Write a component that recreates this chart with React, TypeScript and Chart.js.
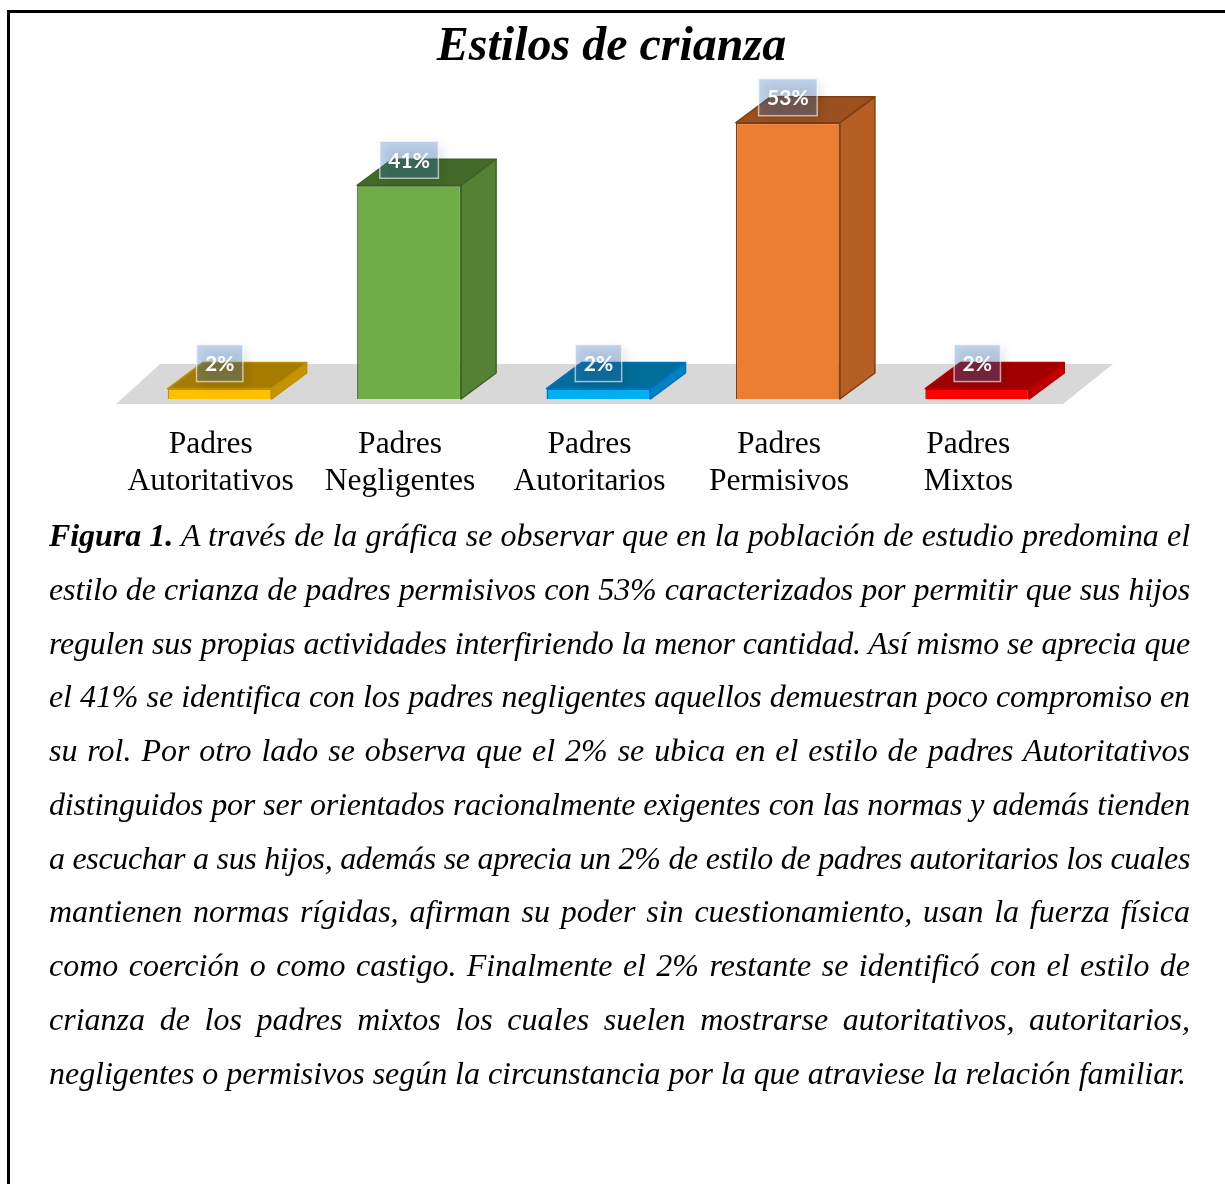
import React, { useEffect, useMemo, useRef } from "react";
import { Chart, registerables } from "chart.js";

Chart.register(...registerables);

const chartTitle = "Estilos de crianza";
const categories: string[][] = [
  ["Padres", "Autoritativos"],
  ["Padres", "Negligentes"],
  ["Padres", "Autoritarios"],
  ["Padres", "Permisivos"],
  ["Padres", "Mixtos"],
];
const values = [2, 41, 2, 53, 2];
const frontColors = ["#FFC000", "#70AD47", "#00B0F0", "#ED7D31", "#FF0000"];
const topColors = ["#A67C00", "#436A29", "#006E98", "#9A5020", "#A00000"];
const sideColors = ["#C49400", "#548235", "#0082BE", "#B65F25", "#C00000"];
const borderColors = ["#BF9000", "#3B6325", "#0070C0", "#843C0C", "#B00000"];

const captionLead = "Figura 1.";
const captionLines = [
  "A través de la gráfica se observar que en la población de estudio predomina el",
  "estilo de crianza de padres permisivos con 53% caracterizados por permitir que sus hijos",
  "regulen sus propias actividades interfiriendo la menor cantidad. Así mismo se aprecia que",
  "el 41% se identifica con los padres negligentes aquellos demuestran poco compromiso en",
  "su rol. Por otro lado se observa que el 2% se ubica en el estilo de padres Autoritativos",
  "distinguidos por ser orientados racionalmente exigentes con las normas y además tienden",
  "a escuchar a sus hijos, además se aprecia un 2% de estilo de padres autoritarios los cuales",
  "mantienen normas rígidas, afirman su poder sin cuestionamiento, usan la fuerza física",
  "como coerción o como castigo. Finalmente el 2% restante se identificó con el estilo de",
  "crianza de los padres mixtos los cuales suelen mostrarse autoritativos, autoritarios,",
  "negligentes o permisivos según la circunstancia por la que atraviese la relación familiar.",
];

const CAPTION_WIDTH = 1141;
const CAPTION_SIZE = 32;

const SHIFT_X = 9;
const SHIFT_Y = -5;
const DEPTH_X = 35;
const DEPTH_Y = -26;

const threeDPlugin = {
  id: "threeD",
  beforeDatasetsDraw(chart: any) {
    const { ctx, chartArea } = chart;
    const { left, right, bottom } = chartArea;
    ctx.save();
    ctx.fillStyle = "#D9D8D9";
    ctx.beginPath();
    ctx.moveTo(left, bottom);
    ctx.lineTo(right, bottom);
    ctx.lineTo(right + 50, bottom - 40);
    ctx.lineTo(left + 44, bottom - 40);
    ctx.closePath();
    ctx.fill();
    ctx.restore();

    ctx.save();
    ctx.translate(SHIFT_X, SHIFT_Y);
    const meta = chart.getDatasetMeta(0);
    meta.data.forEach((bar: any, i: number) => {
      const p = bar.getProps(["x", "y", "base", "width"], true);
      const L = p.x - p.width / 2;
      const R = p.x + p.width / 2;
      ctx.lineWidth = 1.5;
      ctx.strokeStyle = borderColors[i];
      ctx.lineJoin = "round";
      ctx.fillStyle = sideColors[i];
      ctx.beginPath();
      ctx.moveTo(R, p.y);
      ctx.lineTo(R + DEPTH_X, p.y + DEPTH_Y);
      ctx.lineTo(R + DEPTH_X, p.base + DEPTH_Y);
      ctx.lineTo(R, p.base);
      ctx.closePath();
      ctx.fill();
      ctx.stroke();
      ctx.fillStyle = topColors[i];
      ctx.beginPath();
      ctx.moveTo(L, p.y);
      ctx.lineTo(R, p.y);
      ctx.lineTo(R + DEPTH_X, p.y + DEPTH_Y);
      ctx.lineTo(L + DEPTH_X, p.y + DEPTH_Y);
      ctx.closePath();
      ctx.fill();
      ctx.stroke();
    });
  },
  afterDatasetsDraw(chart: any) {
    const { ctx } = chart;
    ctx.restore();
    const meta = chart.getDatasetMeta(0);
    ctx.save();
    ctx.font = "bold 21px Lato";
    meta.data.forEach((bar: any, i: number) => {
      const p = bar.getProps(["x", "y"], true);
      const text = values[i] + "%";
      const tw = ctx.measureText(text).width;
      const bw = tw + 17;
      const bh = 37;
      const cx = p.x + SHIFT_X;
      const bottomY = p.y + SHIFT_Y - 7;
      const bx = cx - bw / 2;
      const by = bottomY - bh;
      ctx.save();
      ctx.shadowColor = "rgba(0,0,0,0.35)";
      ctx.shadowBlur = 10;
      ctx.shadowOffsetX = 4;
      ctx.shadowOffsetY = 4;
      ctx.fillStyle = "rgba(50,120,195,0.3)";
      ctx.fillRect(bx, by, bw, bh);
      ctx.restore();
      ctx.strokeStyle = "rgba(255,255,255,0.6)";
      ctx.lineWidth = 1.5;
      ctx.strokeRect(bx, by, bw, bh);
      ctx.fillStyle = "#FFFFFF";
      ctx.textAlign = "center";
      ctx.textBaseline = "middle";
      ctx.fillText(text, cx, by + bh / 2 + 1);
    });
    ctx.restore();
  },
  afterDraw(chart: any) {
    const { ctx, width } = chart;
    ctx.save();
    ctx.font = 'italic bold 48px "Liberation Serif"';
    ctx.fillStyle = "#000000";
    ctx.textAlign = "center";
    ctx.textBaseline = "alphabetic";
    ctx.fillText(chartTitle, width / 2 - 1, 60);
    ctx.restore();
  },
};

function ChartCanvas() {
  const ref = useRef<HTMLCanvasElement | null>(null);
  useEffect(() => {
    if (!ref.current) return;
    const chart = new Chart(ref.current, {
      type: "bar",
      data: {
        labels: categories,
        datasets: [
          {
            data: values,
            backgroundColor: frontColors,
            borderColor: borderColors,
            borderWidth: 1.5,
            barPercentage: 0.549,
            categoryPercentage: 1,
          },
        ],
      },
      options: {
        responsive: false,
        animation: false,
        devicePixelRatio: 1,
        layout: { padding: { left: 116, right: 162, top: 91.2, bottom: 6 } },
        plugins: {
          legend: { display: false },
          tooltip: { enabled: false },
          title: { display: false },
        },
        scales: {
          x: {
            grid: { display: false, drawTicks: false },
            border: { display: false },
            ticks: {
              color: "#000000",
              padding: 22,
              maxRotation: 0,
              autoSkip: false,
              font: { family: '"Liberation Serif"', size: 31.5, lineHeight: 1.17 },
            },
            afterFit: (s: any) => {
              s.height = 100;
            },
          },
          y: { display: false, min: 0, max: 60 },
        },
      },
      plugins: [threeDPlugin],
    } as any);
    return () => chart.destroy();
  }, []);
  return (
    <canvas
      ref={ref}
      width={1225}
      height={510}
      style={{ position: "absolute", left: 0, top: 0, width: 1225, height: 510 }}
    />
  );
}

function Caption() {
  const spacings = useMemo(() => {
    const c = document.createElement("canvas");
    const ctx = c.getContext("2d")!;
    return captionLines.map((line, i) => {
      ctx.font = `italic ${CAPTION_SIZE}px "Liberation Serif"`;
      let w = ctx.measureText(i === 0 ? " " + line : line).width;
      if (i === 0) {
        ctx.font = `italic bold ${CAPTION_SIZE}px "Liberation Serif"`;
        w += ctx.measureText(captionLead).width;
      }
      const chars = (i === 0 ? captionLead.length + 1 : 0) + line.length;
      const target = CAPTION_WIDTH - 4;
      return w > target ? (target - w) / chars : 0;
    });
  }, []);
  return (
    <div
      style={{
        position: "absolute",
        left: 49,
        top: 509,
        width: CAPTION_WIDTH,
        fontFamily: '"Liberation Serif", serif',
        fontStyle: "italic",
        fontSize: CAPTION_SIZE,
        lineHeight: "53.75px",
        color: "#000",
      }}
    >
      {captionLines.map((line, i) => {
        const last = i === captionLines.length - 1;
        return (
          <div
            key={i}
            style={{
              whiteSpace: "nowrap",
              letterSpacing: spacings[i] + "px",
              textAlign: last ? "left" : "justify",
              textAlignLast: last ? "left" : "justify",
            }}
          >
            {i === 0 ? <b>{captionLead}</b> : null}
            {i === 0 ? " " : ""}
            {line}
          </div>
        );
      })}
    </div>
  );
}

export default function App() {
  return (
    <div>
      <div
        style={{
          position: "absolute",
          left: 7,
          top: 10,
          width: 1240,
          height: 1200,
          borderLeft: "3px solid #000",
          borderTop: "3px solid #000",
          boxSizing: "border-box",
        }}
      />
      <ChartCanvas />
      <Caption />
    </div>
  );
}
